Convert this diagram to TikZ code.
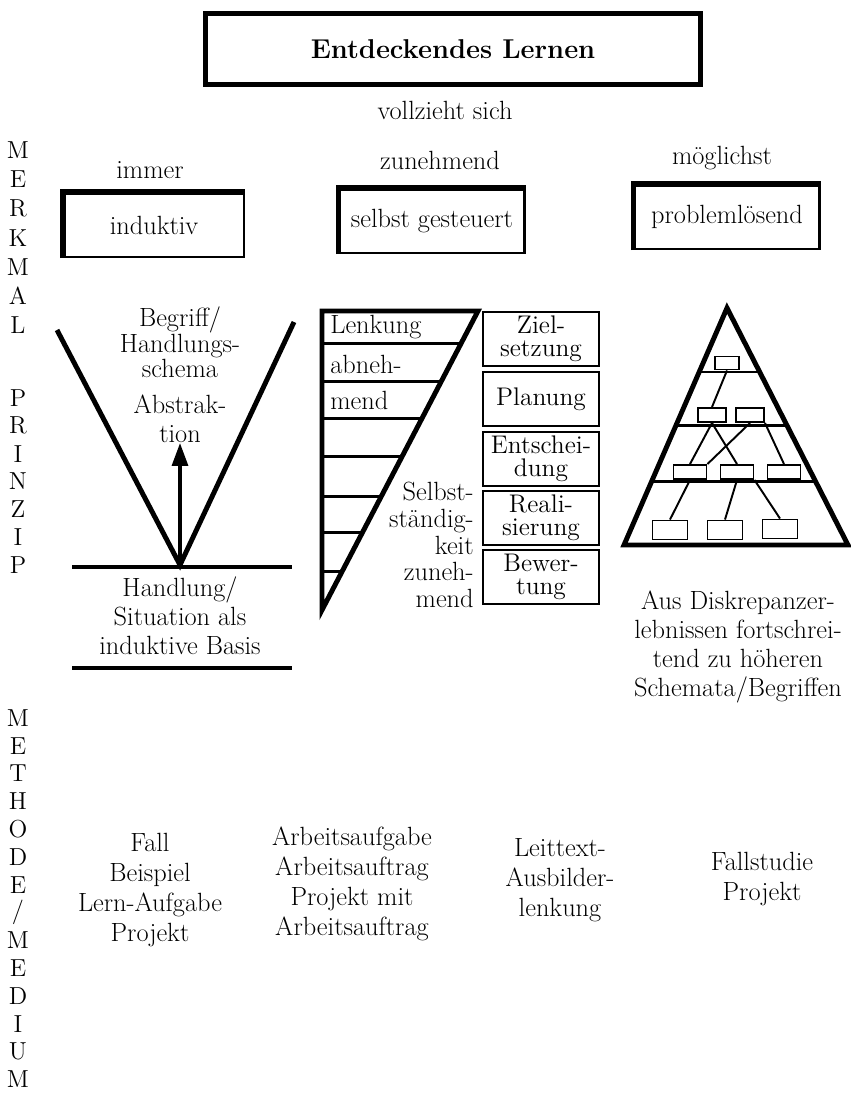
\documentclass[tikz,border=0pt]{standalone}
\usepackage{tikz}
\usetikzlibrary{calc,arrows.meta}
\tikzstyle{Txt}=[font=\fontsize{15}{16.5}\selectfont, align=center, inner sep=0pt]
\tikzstyle{Tight}=[font=\fontsize{14.5}{13}\selectfont, align=center, inner sep=0pt]
\tikzstyle{Letter}=[font=\fontsize{14}{14}\selectfont, inner sep=0pt]
\tikzstyle{Frame}=[rectangle, draw=black, line width=1.2pt, inner sep=0pt, minimum width=3.65cm, minimum height=1.28cm, font=\fontsize{15}{16}\selectfont]
\tikzstyle{Step}=[rectangle, draw=black, line width=1.5pt, inner sep=0pt, minimum width=2.32cm, minimum height=1.08cm, Tight]
\tikzstyle{Cell}=[rectangle, draw=black, line width=1.1pt, inner sep=0pt]
\tikzstyle{Heavy}=[line width=2.8pt]
\tikzstyle{Rung}=[line width=1.7pt]

\begin{document}
\begin{tikzpicture}[x=0.02cm, y=-0.02cm]
    \useasboundingbox (0,0) rectangle (851,1102);
    \path
    (453,49) node[Frame, line width=2.8pt, minimum width=9.9cm, minimum height=1.42cm, font=\fontsize{15.5}{18}\selectfont\bfseries] (title) {Entdeckendes Lernen}
    (445,110) node[Txt] (vollz) {vollzieht sich}
    (150,170) node[Txt] (immer) {immer}
    (440,160) node[Txt] (zunehm) {zunehmend}
    (722,158) node[Txt] (moegl) {möglichst}
    (154,225) node[Frame, minimum width=3.6cm] (induktiv) {induktiv}
    (432,221) node[Frame, minimum width=3.7cm] (selbst) {selbst gesteuert}
    (727,217) node[Frame, minimum width=3.7cm] (problem) {problemlösend};

    \draw[line width=3pt] (induktiv.south west) |- (induktiv.north east);
    \draw[line width=3pt] (selbst.south west) |- (selbst.north east);
    \draw[line width=3pt] (problem.south west) |- (problem.north east);

    \foreach \c [count=\i] in {M,E,R,K,M,A,L}
        \node[Letter] (mk\i) at (18,{150+29.2*(\i-1)}) {\c};
    \foreach \c [count=\i] in {P,R,I,N,Z,I,P}
        \node[Letter] (pz\i) at (18,{398+27.8*(\i-1)}) {\c};
    \foreach \c [count=\i] in {M,E,T,H,O,D,E,/,M,E,D,I,U,M}
        \node[Letter] (md\i) at (18,{718+27.8*(\i-1)}) {\c};

    % induktiv
    \coordinate (vl) at (57,330);
    \coordinate (vx) at (180,565);
    \coordinate (vr) at (294,322);
    \coordinate (vtip) at (180,443);
    \coordinate (b1l) at (72,567);
    \coordinate (b1r) at (292,567);
    \coordinate (b2l) at (72,668);
    \coordinate (b2r) at (292,668);
    \draw[Heavy] (vl) -- (vx) -- (vr);
    \draw[line width=2.3pt] (b1l) -- (b1r);
    \draw[line width=2.3pt] (b2l) -- (b2r);
    \draw[line width=2pt, -{Triangle[length=13pt,width=9pt]}] (vx) -- (vtip);
    \path
    (180,342) node[Txt, font=\fontsize{15}{14}\selectfont] (begriff) {Begriff/\\Handlungs-\\schema}
    (180,419) node[Txt] (abstr) {Abstrak-\\tion}
    (180,616) node[Txt] (handl) {Handlung/\\Situation als\\induktive Basis};

    % selbst gesteuert
    \coordinate (dcorner) at (322,311);
    \coordinate (dtop) at (478,311);
    \coordinate (dbot) at (322,610);
    \draw[Heavy, line join=miter] (dcorner) -- (dtop) -- (dbot) -- cycle;
    \foreach \f in {0.110,0.237,0.361,0.488,0.619,0.742,0.870}
        \draw[Rung] ($(dtop)!\f!(dbot)$) coordinate (r) -- (dbot |- r);
    \path
    (330,327) node[Txt, anchor=west] (lenk) {Lenkung}
    (330,364) node[Txt, anchor=west] (abneh) {abneh-}
    (330,400) node[Txt, anchor=west] (mend) {mend}
    (474,545) node[Txt, align=right, anchor=east, font=\fontsize{15}{15.2}\selectfont] (selbstst) {Selbst-\\ständig-\\keit\\zuneh-\\mend}
    (541,339) node[Step] (ziel) {Ziel-\\setzung}
    (541,399) node[Step] (plan) {Planung}
    (541,459) node[Step] (entsch) {Entschei-\\dung}
    (541,518) node[Step] (real) {Reali-\\sierung}
    (541,577) node[Step] (bew) {Bewer-\\tung};

    % problemloesend
    \coordinate (apex) at (727,308);
    \coordinate (pbl) at (624,545);
    \coordinate (pbr) at (848,545);
    \draw[Heavy, line join=miter] (apex) -- (pbl) -- (pbr) -- cycle;
    \foreach \f in {0.27,0.494,0.73}
        \draw[Rung] ($(apex)!\f!(pbl)$) -- ($(apex)!\f!(pbr)$);
    \path
    (727,363) node[Cell, minimum width=0.48cm, minimum height=0.26cm] (ka) {}
    (712,415) node[Cell, minimum width=0.56cm, minimum height=0.28cm] (kb) {}
    (750,415) node[Cell, minimum width=0.56cm, minimum height=0.28cm] (kc) {}
    (690,472) node[Cell, minimum width=0.66cm, minimum height=0.28cm] (kd) {}
    (737,472) node[Cell, minimum width=0.66cm, minimum height=0.28cm] (ke) {}
    (784,472) node[Cell, minimum width=0.66cm, minimum height=0.28cm] (kf) {}
    (670,530) node[Cell, minimum width=0.7cm, minimum height=0.38cm] (kg) {}
    (725,530) node[Cell, minimum width=0.7cm, minimum height=0.38cm] (kh) {}
    (780,529) node[Cell, minimum width=0.7cm, minimum height=0.38cm] (ki) {};
    \draw[line width=1.1pt] (ka.south) -- (kb.north);
    \draw[line width=1.1pt] (kb.south) -- (kd.north);
    \draw[line width=1.1pt] (kb.south) -- (ke.north);
    \draw[line width=1.1pt] (kc.south) -- (kd.north east);
    \draw[line width=1.1pt] (kc.south east) -- (kf.north);
    \draw[line width=1.1pt] (kd.south) -- (kg.north);
    \draw[line width=1.1pt] (ke.south) -- (kh.north);
    \draw[line width=1.1pt] (ke.south east) -- (ki.north);
    \path (738,647) node[Txt, font=\fontsize{15}{16.5}\selectfont] (diskr) {Aus Diskrepanzer-\\lebnissen fortschrei-\\tend zu höheren\\Schemata/Begriffen};

    % Methode / Medium
    \path
    (150,890) node[Txt, font=\fontsize{15}{17}\selectfont] (m1) {Fall\\Beispiel\\Lern-Aufgabe\\Projekt}
    (352,884) node[Txt, font=\fontsize{15}{17}\selectfont] (m2) {Arbeitsaufgabe\\Arbeitsauftrag\\Projekt mit\\Arbeitsauftrag}
    (560,880) node[Txt, font=\fontsize{15}{17}\selectfont] (m3) {Leittext-\\Ausbilder-\\lenkung}
    (762,879) node[Txt, font=\fontsize{15}{17}\selectfont] (m4) {Fallstudie\\Projekt};
\end{tikzpicture}
\end{document}
